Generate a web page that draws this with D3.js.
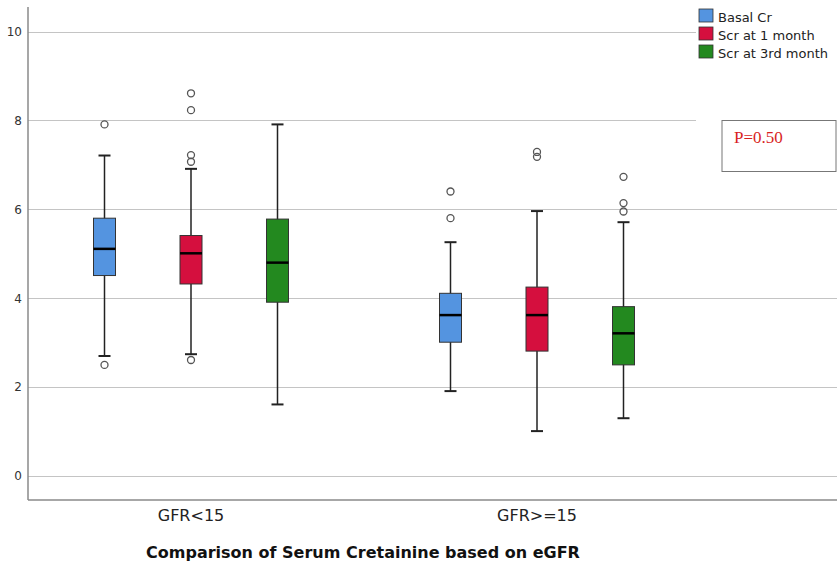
<!DOCTYPE html>
<html><head><meta charset="utf-8">
<script src="https://cdn.jsdelivr.net/npm/d3@7"></script>
<style>body{margin:0;background:#fff}svg{display:block}</style>
</head><body>
<script>
const categories = ["GFR<15", "GFR>=15"];
const series = ["Basal Cr", "Scr at 1 month", "Scr at 3rd month"];
const colors = ["#5494e0", "#d50f3e", "#23891f"];
// [lowWhisker, q1, median, q3, highWhisker] per category per series
const basalCr =  [[2.70, 4.51, 5.11, 5.80, 7.21], [1.91, 3.01, 3.62, 4.11, 5.26]];
const scr1Month = [[2.74, 4.32, 5.01, 5.41, 6.91], [1.01, 2.81, 3.62, 4.25, 5.96]];
const scr3Month = [[1.61, 3.91, 4.80, 5.78, 7.91], [1.30, 2.50, 3.21, 3.81, 5.71]];
const basalOut = [[7.91, 2.50], [6.40, 5.80]];
const scr1Out = [[8.61, 8.23, 7.22, 7.07, 2.61], [7.29, 7.18]];
const scr3Out = [[], [6.73, 6.14, 5.95]];
const yTicks = [0, 2, 4, 6, 8, 10];
const title = "Comparison of Serum Cretainine based on eGFR";
const pText = "P=0.50";

const W = 837, H = 567;
const svg = d3.select("body").append("svg").attr("width", W).attr("height", H);
const mLeft = 28, mTop = 7, mBottom = 500;
const y = d3.scaleLinear().domain([0, 10]).range([476, 31.5]);
const x0 = d3.scaleBand().domain(categories).range([18, 710]);
const x1 = d3.scaleBand().domain(series).range([0, x0.bandwidth()]).paddingInner(0).paddingOuter(0.5);

// gridlines
svg.append("g").selectAll("line").data(yTicks).join("line")
  .attr("x1", mLeft).attr("x2", W).attr("y1", d => Math.round(y(d)) + 0.5).attr("y2", d => Math.round(y(d)) + 0.5)
  .attr("stroke", "#c4c4c4").attr("stroke-width", 1.2);

// axes
const yAxis = svg.append("g").attr("transform", `translate(${mLeft},0)`)
  .call(d3.axisLeft(y).tickValues(yTicks).tickSize(0).tickPadding(6));
yAxis.select(".domain").remove();
yAxis.selectAll("text").attr("font-family", "DejaVu Sans, sans-serif").attr("font-size", 12).attr("fill", "#333");
svg.append("line").attr("x1", mLeft).attr("x2", mLeft).attr("y1", mTop).attr("y2", mBottom)
  .attr("stroke", "#8a8a8a").attr("stroke-width", 1.5);
svg.append("line").attr("x1", mLeft).attr("x2", W).attr("y1", mBottom).attr("y2", mBottom)
  .attr("stroke", "#8a8a8a").attr("stroke-width", 1.5);

const xAxis = svg.append("g").attr("transform", `translate(0,${mBottom})`)
  .call(d3.axisBottom(x0).tickSize(0).tickPadding(10));
xAxis.select(".domain").remove();
xAxis.selectAll("text").attr("font-family", "DejaVu Sans, sans-serif").attr("font-size", 16).attr("fill", "#222");

const allStats = [basalCr, scr1Month, scr3Month];
const allOut = [basalOut, scr1Out, scr3Out];
const boxes = [], outs = [];
series.forEach((s, si) => categories.forEach((c, ci) => {
  const cx = x0(c) + x1(s) + x1.bandwidth() / 2;
  boxes.push({cx, st: allStats[si][ci], color: colors[si]});
  allOut[si][ci].forEach(v => outs.push({cx, v}));
}));
const bw = 22, cw = 12;
const g = svg.append("g");
boxes.forEach(b => {
  const [lo, q1, med, q3, hi] = b.st;
  g.append("line").attr("x1", b.cx).attr("x2", b.cx).attr("y1", y(hi)).attr("y2", y(lo)).attr("stroke", "#222").attr("stroke-width", 1.5);
  [lo, hi].forEach(v => g.append("line").attr("x1", b.cx - cw / 2).attr("x2", b.cx + cw / 2).attr("y1", y(v)).attr("y2", y(v)).attr("stroke", "#222").attr("stroke-width", 2));
  g.append("rect").attr("x", b.cx - bw / 2).attr("width", bw).attr("y", y(q3)).attr("height", y(q1) - y(q3))
    .attr("fill", b.color).attr("stroke", "#333").attr("stroke-width", 1);
  g.append("line").attr("x1", b.cx - bw / 2).attr("x2", b.cx + bw / 2).attr("y1", y(med)).attr("y2", y(med)).attr("stroke", "#000").attr("stroke-width", 2.5);
});
g.selectAll("circle").data(outs).join("circle")
  .attr("cx", d => d.cx).attr("cy", d => y(d.v)).attr("r", 3.5)
  .attr("fill", "none").attr("stroke", "#555").attr("stroke-width", 1.3);

// legend
svg.append("rect").attr("x", 696).attr("y", 0).attr("width", 141).attr("height", 64).attr("fill", "#fff");
const leg = svg.append("g").attr("transform", "translate(699,9)");
series.forEach((s, i) => {
  leg.append("rect").attr("x", 0).attr("y", i * 18).attr("width", 14).attr("height", 13)
    .attr("fill", colors[i]).attr("stroke", "#333").attr("stroke-width", 0.8);
  leg.append("text").attr("x", 19).attr("y", i * 18 + 12.5).text(s)
    .attr("font-family", "DejaVu Sans, sans-serif").attr("font-size", 13).attr("fill", "#222");
});

// P box
svg.append("rect").attr("x", 696).attr("y", 100).attr("width", 141).attr("height", 80).attr("fill", "#fff");
svg.append("rect").attr("x", 722).attr("y", 120.5).attr("width", 114).attr("height", 51)
  .attr("fill", "#fff").attr("stroke", "#777").attr("stroke-width", 1);
svg.append("text").attr("x", 734).attr("y", 143).text(pText)
  .attr("font-family", "Liberation Serif, serif").attr("font-size", 17).attr("fill", "#d81e1e");

svg.append("text").attr("x", 363).attr("y", 558).attr("text-anchor", "middle").text(title)
  .attr("font-family", "DejaVu Sans, sans-serif").attr("font-weight", "bold").attr("font-size", 16).attr("fill", "#111");
</script>
</body></html>
